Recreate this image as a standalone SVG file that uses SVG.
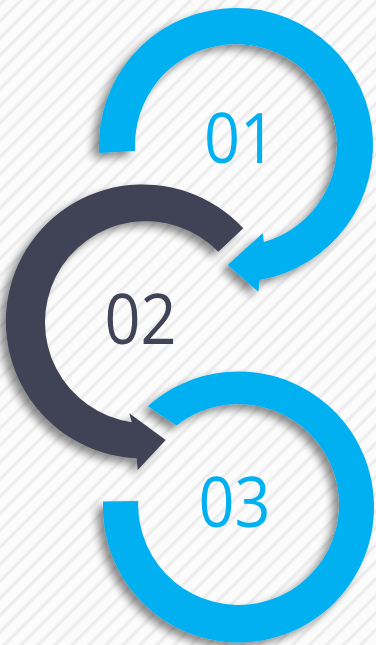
<svg xmlns="http://www.w3.org/2000/svg" width="376" height="645" viewBox="0 0 376 645">
  <defs>
    <linearGradient id="stripeGrad" x1="0" y1="0" x2="1" y2="0">
      <stop offset="0" stop-color="#ffffff"/>
      <stop offset="0.5" stop-color="#e8e8e8"/>
      <stop offset="1" stop-color="#ffffff"/>
    </linearGradient>
    <pattern id="stripes" patternUnits="userSpaceOnUse" width="12" height="12" patternTransform="rotate(45)">
      <rect x="0" y="0" width="12" height="12" fill="#fcfcfc"/>
      <rect x="0" y="0" width="6" height="12" fill="url(#stripeGrad)"/>
    </pattern>
    <filter id="shadow" x="-20%" y="-20%" width="140%" height="140%">
      <feGaussianBlur in="SourceAlpha" stdDeviation="4"/>
      <feOffset dx="-6" dy="5" result="b"/>
      <feComponentTransfer><feFuncA type="linear" slope="0.45"/></feComponentTransfer>
      <feMerge><feMergeNode/><feMergeNode in="SourceGraphic"/></feMerge>
    </filter>
  </defs>
  <style>
    .blue { fill: #00B0F0; }
    .dark { fill: #414356; }
    .num { font-family: "Open Sans", "Liberation Sans", sans-serif; font-size: 70px; text-anchor: middle; }
    .tblue { fill: #00B0F0; }
    .tdark { fill: #414356; }
  </style>
  <rect x="0" y="0" width="376" height="645" fill="url(#stripes)"/>

  <g id="node1">
    <path class="blue" filter="url(#shadow)" d="M99.2,153.1 A137,137 0 1 1 259.8,279.9 L258.3,291.7 L227.7,265 L262.7,233.3 L263.8,242.1 A101,101 0 1 0 135.2,151 Z"/>
    <text class="num tblue" x="240" y="163" textLength="72" lengthAdjust="spacingAndGlyphs">01</text>
  </g>

  <g id="node2">
    <path class="dark" filter="url(#shadow)" d="M243.3,228.3 A137,137 0 1 0 136.7,458.3 L137.7,470 L165.7,440 L129.3,413.3 L131.7,422.2 A101,101 0 1 1 218.3,251.7 Z"/>
    <text class="num tdark" x="140.5" y="344" textLength="72" lengthAdjust="spacingAndGlyphs">02</text>
  </g>

  <g id="node3">
    <path class="blue" filter="url(#shadow)" d="M147.8,406.3 A135.5,135.5 0 1 1 103.1,501.6 L138.2,501 A100.5,100.5 0 1 0 176.5,425.5 Z"/>
    <text class="num tblue" x="234.5" y="527" textLength="72" lengthAdjust="spacingAndGlyphs">03</text>
  </g>
</svg>
